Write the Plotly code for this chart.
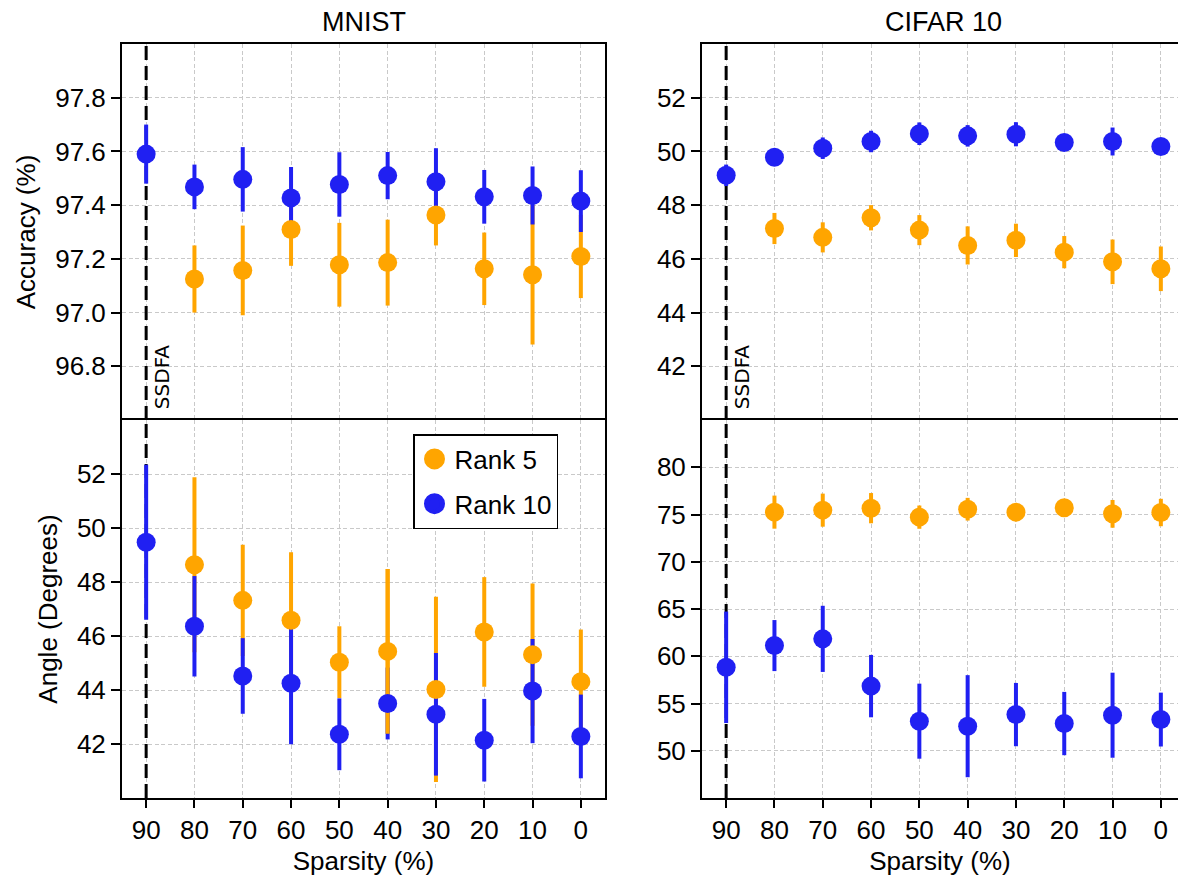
import plotly.graph_objects as go

# ---------------- data ----------------
sparsity = [90, 80, 70, 60, 50, 40, 30, 20, 10, 0]
sparsity_labels = ["90", "80", "70", "60", "50", "40", "30", "20", "10", "0"]
ssdfa_x = 90

# MNIST accuracy (%)
mnist_acc_rank5 = [None, 97.125, 97.157, 97.309, 97.178, 97.186, 97.363, 97.163, 97.141, 97.209]
mnist_acc_rank5_err = [None, 0.125, 0.167, 0.135, 0.156, 0.16, 0.113, 0.135, 0.26, 0.155]
mnist_acc_rank10 = [97.59, 97.468, 97.496, 97.427, 97.477, 97.51, 97.487, 97.431, 97.436, 97.415]
mnist_acc_rank10_err = [0.11, 0.083, 0.12, 0.115, 0.12, 0.088, 0.125, 0.1, 0.108, 0.115]

# CIFAR 10 accuracy (%)
cifar_acc_rank5 = [None, 47.13, 46.80, 47.53, 47.07, 46.50, 46.69, 46.25, 45.89, 45.63]
cifar_acc_rank5_err = [None, 0.58, 0.56, 0.47, 0.56, 0.71, 0.62, 0.60, 0.83, 0.83]
cifar_acc_rank10 = [49.11, 49.78, 50.12, 50.37, 50.66, 50.58, 50.64, 50.33, 50.37, 50.18]
cifar_acc_rank10_err = [0.40, 0.20, 0.40, 0.40, 0.42, 0.40, 0.45, 0.20, 0.52, 0.20]

# MNIST angle (degrees)
mnist_ang_rank5 = [None, 48.64, 47.32, 46.58, 45.03, 45.43, 44.02, 46.15, 45.31, 44.31]
mnist_ang_rank5_err = [None, 3.24, 2.06, 2.52, 1.33, 3.05, 3.43, 2.03, 2.63, 1.93]
mnist_ang_rank10 = [49.47, 46.36, 44.52, 44.25, 42.36, 43.50, 43.10, 42.14, 43.96, 42.28]
mnist_ang_rank10_err = [2.87, 1.86, 1.40, 2.26, 1.33, 1.33, 2.27, 1.53, 1.93, 1.55]
mnist_ang_rank5_drawn_last = [40]   # sparsity where the Rank 5 bar lies over Rank 10

# CIFAR 10 angle (degrees)
cifar_ang_rank5 = [None, 75.25, 75.46, 75.67, 74.72, 75.56, 75.25, 75.71, 75.07, 75.21]
cifar_ang_rank5_err = [None, 1.75, 1.75, 1.60, 1.23, 1.20, 0.50, 0.50, 1.47, 1.45]
cifar_ang_rank10 = [58.83, 61.13, 61.84, 56.84, 53.13, 52.60, 53.83, 52.88, 53.76, 53.30]
cifar_ang_rank10_err = [5.90, 2.70, 3.50, 3.30, 3.97, 5.40, 3.35, 3.35, 4.50, 2.85]

series_names = ["Rank 5", "Rank 10"]
acc_ticks_mnist = [96.8, 97.0, 97.2, 97.4, 97.6, 97.8]
acc_ticks_cifar = [42, 44, 46, 48, 50, 52]
ang_ticks_mnist = [42, 44, 46, 48, 50, 52]
ang_ticks_cifar = [50, 55, 60, 65, 70, 75, 80]
acc_range_mnist = [96.6, 98.0]
acc_range_cifar = [40, 54]
ang_range_mnist = [40, 54]
ang_range_cifar = [45, 85]

# ---------------- style ----------------
W, H = 1178, 878
ORANGE = "#FFA500"
BLUE = "#2020F2"
FONT = "Liberation Sans, Arial, sans-serif"
GRID = "#c9c9c9"
GRID_DASH = "4px,2.5px"

def px_x(p):
    return p / W

def px_y(p):
    return 1 - p / H

left_dom = [px_x(122), px_x(605)]
right_dom = [px_x(702), 1.0]
top_dom = [px_y(420), px_y(44)]
bot_dom = [px_y(798), px_y(420)]

fig = go.Figure()


def bars(x, y, err, color, xa, ya, only=None):
    xs, ys, es = [], [], []
    for xi, yi, ei in zip(x, y, err):
        if yi is None:
            continue
        if only is not None and xi not in only:
            continue
        xs.append(xi); ys.append(yi); es.append(ei)
    return go.Scatter(
        x=xs, y=ys, mode="markers", xaxis=xa, yaxis=ya,
        marker=dict(size=1, color="rgba(0,0,0,0)"),
        error_y=dict(type="data", array=es, visible=True, color=color,
                     thickness=4, width=0),
        showlegend=False, hoverinfo="skip")


def dots(x, y, color, xa, ya):
    return go.Scatter(
        x=x, y=y, mode="markers", xaxis=xa, yaxis=ya, showlegend=False,
        marker=dict(size=19, color=color, line=dict(width=0)),
        hoverinfo="skip")


panels = [
    ("x", "y", acc_range_mnist, mnist_acc_rank5, mnist_acc_rank5_err, mnist_acc_rank10, mnist_acc_rank10_err, None),
    ("x2", "y2", acc_range_cifar, cifar_acc_rank5, cifar_acc_rank5_err, cifar_acc_rank10, cifar_acc_rank10_err, None),
    ("x3", "y3", ang_range_mnist, mnist_ang_rank5, mnist_ang_rank5_err, mnist_ang_rank10, mnist_ang_rank10_err, mnist_ang_rank5_drawn_last),
    ("x4", "y4", ang_range_cifar, cifar_ang_rank5, cifar_ang_rank5_err, cifar_ang_rank10, cifar_ang_rank10_err, None),
]

for xa, ya, yr, r5, r5e, r10, r10e, over in panels:
    # SSDFA dashed reference line (below the data, above the grid)
    fig.add_trace(go.Scatter(x=[ssdfa_x, ssdfa_x], y=yr, mode="lines", xaxis=xa, yaxis=ya,
                             line=dict(color="black", width=3, dash="14px,6px"),
                             showlegend=False, hoverinfo="skip", cliponaxis=True))
    fig.add_trace(bars(sparsity, r5, r5e, ORANGE, xa, ya))
    fig.add_trace(bars(sparsity, r10, r10e, BLUE, xa, ya))
    if over:
        fig.add_trace(bars(sparsity, r5, r5e, ORANGE, xa, ya, only=over))
    fig.add_trace(dots(sparsity, r5, ORANGE, xa, ya))
    fig.add_trace(dots(sparsity, r10, BLUE, xa, ya))

# legend entries
for name, color in zip(series_names, [ORANGE, BLUE]):
    fig.add_trace(go.Scatter(x=[None], y=[None], mode="markers", name=name,
                             xaxis="x3", yaxis="y3", legendgroup=name,
                             marker=dict(size=16, color=color, line=dict(width=5, color=color))))

tickfont = dict(family=FONT, size=26, color="black")

def xaxis(dom, rng, anchor, bottom):
    d = dict(domain=dom, range=rng, anchor=anchor, tickmode="array",
             tickvals=sparsity, ticktext=sparsity_labels,
             showgrid=True, gridcolor=GRID, gridwidth=1, griddash=GRID_DASH,
             zeroline=False, showline=True, linecolor="black", linewidth=2,
             tickfont=tickfont)
    if bottom:
        d.update(ticks="outside", ticklen=8, tickwidth=2, tickcolor="black",
                 showticklabels=True, mirror=True,
                 title=dict(text="Sparsity (%)", font=dict(family=FONT, size=26, color="black"),
                            standoff=8))
    else:
        # top panels: only the top frame line (the shared middle line comes from below)
        d.update(ticks="", showticklabels=False, side="top", mirror=False)
    return d


def yaxis(dom, rng, ticks, anchor, title, mirror, fmt):
    d = dict(domain=dom, range=rng, anchor=anchor, tickmode="array", tickvals=ticks,
             ticktext=[fmt.format(t) for t in ticks],
             showgrid=True, gridcolor=GRID, gridwidth=1, griddash=GRID_DASH,
             zeroline=False, showline=True, linecolor="black", linewidth=2,
             mirror=mirror, ticks="outside", ticklen=9, tickwidth=2, tickcolor="black",
             tickfont=tickfont)
    if title:
        d["title"] = dict(text=title, font=dict(family=FONT, size=26, color="black"), standoff=12)
    return d

L_RANGE = [95, -5]
R_RANGE = [95, -3.55]

fig.update_layout(
    width=W, height=H,
    margin=dict(l=0, r=0, t=0, b=0, autoexpand=False),
    plot_bgcolor="white", paper_bgcolor="white",
    font=dict(family=FONT, color="black"),
    xaxis=xaxis(left_dom, L_RANGE, "y", False),
    xaxis2=xaxis(right_dom, R_RANGE, "y2", False),
    xaxis3=xaxis(left_dom, L_RANGE, "y3", True),
    xaxis4=xaxis(right_dom, R_RANGE, "y4", True),
    yaxis=yaxis(top_dom, acc_range_mnist, acc_ticks_mnist, "x", "Accuracy (%)", True, "{:.1f}"),
    yaxis2=yaxis(top_dom, acc_range_cifar, acc_ticks_cifar, "x2", None, False, "{:d}"),
    yaxis3=yaxis(bot_dom, ang_range_mnist, ang_ticks_mnist, "x3", "Angle (Degrees)", True, "{:d}"),
    yaxis4=yaxis(bot_dom, ang_range_cifar, ang_ticks_cifar, "x4", None, False, "{:d}"),
    showlegend=True,
    legend=dict(x=px_x(413), y=px_y(434), xanchor="left", yanchor="top",
                bgcolor="white", bordercolor="black", borderwidth=1.5,
                font=dict(family=FONT, size=26, color="black"),
                tracegroupgap=8, itemwidth=30),
)

# SSDFA labels
for xa, ya in [("x", "y"), ("x2", "y2")]:
    fig.add_annotation(text="SSDFA", xref=xa, yref=ya + " domain", x=ssdfa_x, y=0,
                       xanchor="center", yanchor="bottom", xshift=16, yshift=9,
                       textangle=-90, showarrow=False,
                       font=dict(family="DejaVu Sans", size=20, color="black"))

# panel titles
for txt, xc in [("MNIST", (122 + 605) / 2), ("CIFAR 10", (702 + 1185) / 2)]:
    fig.add_annotation(text=txt, xref="paper", yref="paper", x=px_x(xc), y=px_y(22),
                       xanchor="center", yanchor="middle", showarrow=False,
                       font=dict(family=FONT, size=27, color="black"))

fig.write_html("out.html", config={"displayModeBar": False},
               post_script="document.body.style.margin='0';")
